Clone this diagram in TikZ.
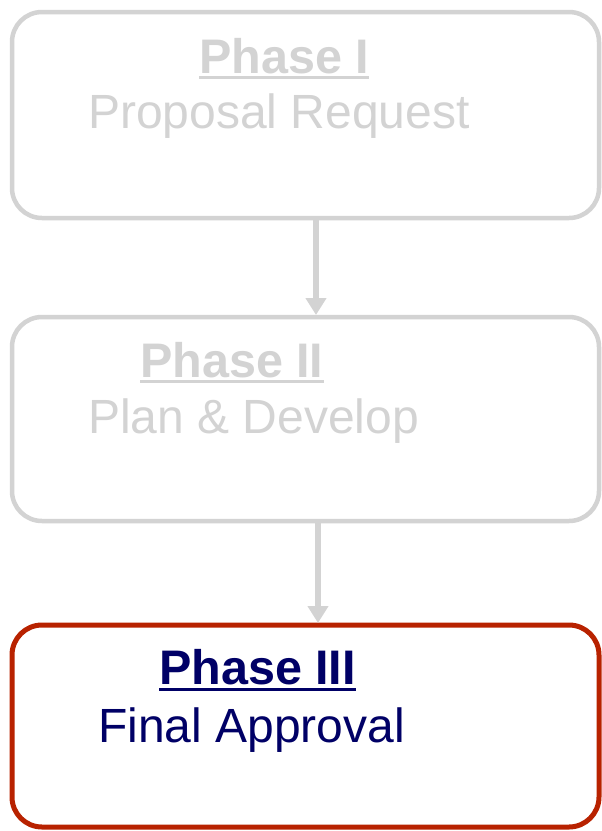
\documentclass[tikz,border=0pt]{standalone}
\usepackage{fontspec}
\setmainfont{Liberation Sans}
\usetikzlibrary{arrows.meta}
\definecolor{palegray}{HTML}{D3D3D3}
\definecolor{boxred}{HTML}{B82200}
\definecolor{navy}{HTML}{000066}
\begin{document}
\begin{tikzpicture}[x=1pt,y=-1pt,
  phasebox/.style={draw=palegray,line width=4.5pt,rounded corners=30pt,
    minimum width=587pt,inner sep=0pt,outer sep=0pt,fill=white},
  activebox/.style={phasebox,draw=boxred,line width=5pt},
  titletext/.style={font=\fontsize{48.5}{50}\selectfont\bfseries,anchor=base west,inner sep=0pt},
  bodytext/.style={font=\fontsize{48}{50}\selectfont,anchor=base west,inner sep=0pt},
  uline/.style={line width=3pt},
  flow/.style={draw=palegray,line width=6pt,shorten >=2pt,-{Triangle[width=20pt,length=17pt]}}
]
\useasboundingbox (0,0) rectangle (602,831);
% boxes
\node[phasebox,minimum height=206pt] (b1) at (305.5,115) {};
\node[phasebox,minimum height=204pt] (b2) at (305.5,419) {};
\node[activebox,minimum height=202pt] (b3) at (305.5,726) {};
% texts box 1
\node[titletext,text=palegray] (t1) at (199,73) {Phase I};
\draw[uline,palegray] ([yshift=-4.5pt]t1.base west) -- ([yshift=-4.5pt]t1.base east);
\node[bodytext,text=palegray] (s1) at (88,128) {Proposal Request};
% texts box 2
\node[titletext,text=palegray] (t2) at (140,377) {Phase II};
\draw[uline,palegray] ([yshift=-4.5pt]t2.base west) -- ([yshift=-4.5pt]t2.base east);
\node[bodytext,text=palegray] (s2) at (88,433) {Plan \& Develop};
% texts box 3
\node[titletext,text=navy] (t3) at (159,684) {Phase III};
\draw[uline,navy] ([yshift=-5pt]t3.base west) -- ([yshift=-5pt]t3.base east);
\node[bodytext,text=navy] (s3) at (98,742) {Final Approval};
% connectors
\draw[flow] ([xshift=10.5pt]b1.south) -- ([xshift=10.5pt]b2.north);
\draw[flow] ([xshift=12.5pt]b2.south) -- ([xshift=12.5pt]b3.north);
\end{tikzpicture}
\end{document}
